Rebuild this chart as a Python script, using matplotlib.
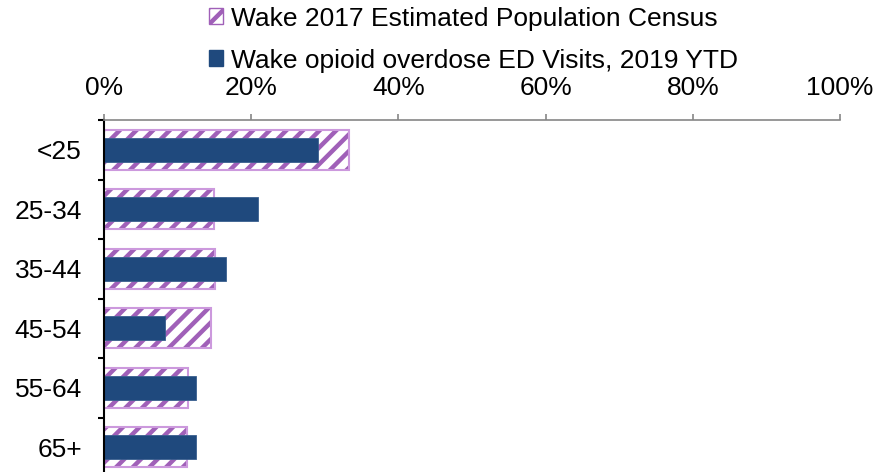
import matplotlib
matplotlib.use("Agg")
import matplotlib.pyplot as plt
import numpy as np
from matplotlib.patches import Patch
from matplotlib.ticker import FixedLocator, NullFormatter, FixedFormatter

categories = ['<25', '25-34', '35-44', '45-54', '55-64', '65+']
census = [33.3, 14.9, 15.1, 14.5, 11.4, 11.3]
ed_visits = [29.1, 20.9, 16.6, 8.3, 12.5, 12.5]
xticks = [0, 20, 40, 60, 80, 100]
xtick_labels = ['0%', '20%', '40%', '60%', '80%', '100%']
legend_labels = ['Wake 2017 Estimated Population Census',
                 'Wake opioid overdose ED Visits, 2019 YTD']

plt.rcParams['font.family'] = ['Liberation Sans', 'DejaVu Sans']
plt.rcParams['hatch.linewidth'] = 3.2

HATCH = '#a060b8'
EDGE = '#cc99dd'
BLUE = '#1f497d'
FS = 19

fig = plt.figure(figsize=(8.76, 4.72), dpi=100)
W, H = 876, 472
left, right, top, bottom = 104, 840, 120, 477
ax = fig.add_axes([left / W, 1 - bottom / H, (right - left) / W, (bottom - top) / H])

y = np.arange(len(categories))
ax.barh(y, census, height=0.67, color='white', edgecolor=HATCH, hatch='//', linewidth=0)
ax.barh(y, census, height=0.67, fill=False, edgecolor=EDGE, linewidth=1.5)
ax.barh(y, ed_visits, height=0.41, color=BLUE, edgecolor='#3a5f8f', linewidth=0.6)

ax.set_xlim(0, 100)
ax.set_ylim(len(categories) - 0.5, -0.5)

ax.xaxis.tick_top()
ax.set_xticks(xticks)
ax.set_xticklabels(xtick_labels, fontsize=FS)
ax.tick_params(axis='x', colors='#868686', length=6 * 0.72, width=1.2, pad=10, labelcolor='black')

ax.yaxis.set_major_locator(FixedLocator(np.arange(-0.5, len(categories), 1.0)))
ax.yaxis.set_major_formatter(NullFormatter())
ax.yaxis.set_minor_locator(FixedLocator(y))
ax.yaxis.set_minor_formatter(FixedFormatter(categories))
ax.tick_params(axis='y', which='major', length=6 * 0.72, width=1.5, color='black')
ax.tick_params(axis='y', which='minor', length=0, pad=16, labelsize=FS)

for s in ['right', 'bottom']:
    ax.spines[s].set_visible(False)
ax.spines['top'].set_color('#868686')
ax.spines['top'].set_linewidth(1.2)
ax.spines['left'].set_color('black')
ax.spines['left'].set_linewidth(1.5)

handles = [Patch(facecolor='white', edgecolor=HATCH, hatch='//', linewidth=1.0),
           Patch(facecolor=BLUE, edgecolor=BLUE)]
fig.legend(handles, legend_labels, loc='upper left', bbox_to_anchor=(202 / W, 1.0),
           frameon=False, fontsize=FS, handlelength=0.55, handleheight=0.55,
           handletextpad=0.3, labelspacing=0.68, borderpad=0.0, borderaxespad=0.25)

fig.savefig('out.png', dpi=100)
